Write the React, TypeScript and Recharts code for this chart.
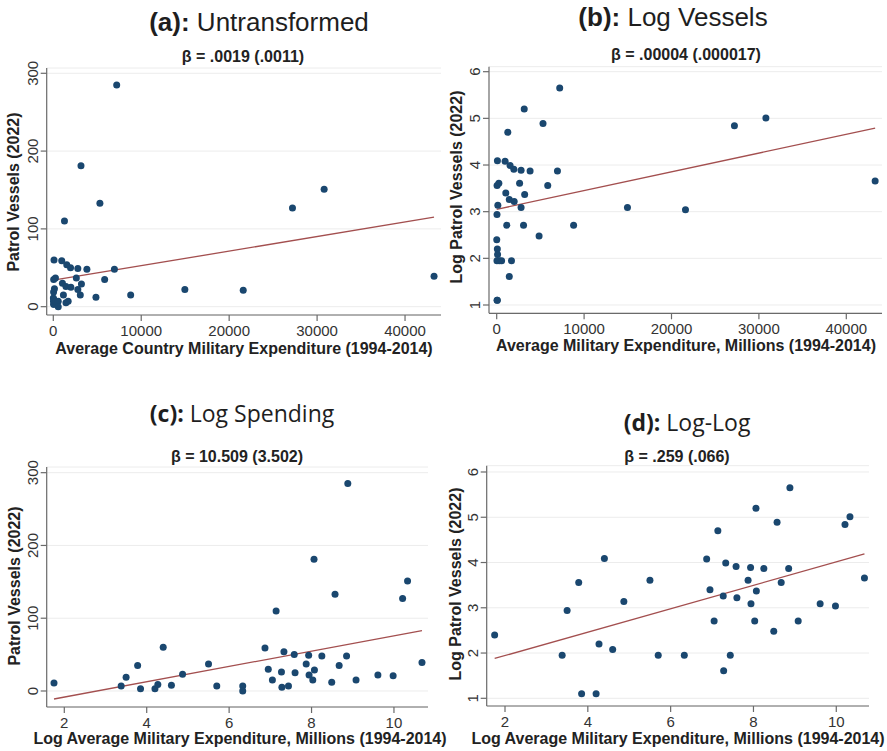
import React from 'react';
import { ScatterChart, Scatter, XAxis, YAxis, CartesianGrid, ReferenceLine } from 'recharts';

const W = 887;
const H = 751;

// one entry per country, ordered by log spending
const spend = [
  6, 29, 33, 44, 47, 67, 72, 81, 100, 130, 245, 300, 560, 560, 960, 1040, 1150, 1270, 1440, 1440, 1530,
  1690, 1960, 2000, 2620, 2790, 2790, 3070, 3150, 3200, 3820, 4850, 5300, 5840, 6950, 7210, 8800,
  14960, 21600, 27200, 30800, 43300,
];
const logSpend = [
  1.75, 3.38, 3.5, 3.78, 3.85, 4.2, 4.27, 4.4, 4.6, 4.87, 5.5, 5.7, 6.33, 6.33, 6.87, 6.95, 7.05, 7.14,
  7.27, 7.28, 7.33, 7.44, 7.58, 7.6, 7.87, 7.93, 7.94, 8.03, 8.06, 8.07, 8.25, 8.49, 8.57, 8.67, 8.85,
  8.88, 9.08, 9.61, 9.98, 10.21, 10.33, 10.68,
];
const vessels = [
  11, 7, 19, 35, 3, 3, 9, 60, 8, 23, 37, 7, 7, 0, 59, 30, 15, 110, 26, 5, 54, 7, 50, 25, 37, 49, 22, 15,
  181, 29, 48, 12, 133, 35, 48, 285, 15, 22, 21, 127, 151, 39,
];
// null: no patrol vessels, so no log value
const logVessels: (number | null)[] = [
  2.4, 1.95, 2.94, 3.56, 1.1, 1.1, 2.2, 4.09, 2.08, 3.14, 3.61, 1.95, 1.95, null, 4.08, 3.4, 2.71, 4.7,
  3.26, 1.61, 3.99, 1.95, 3.91, 3.22, 3.61, 3.89, 3.09, 2.71, 5.2, 3.37, 3.87, 2.48, 4.89, 3.56, 3.87,
  5.65, 2.71, 3.09, 3.04, 4.84, 5.01, 3.66,
];

const xTicksRaw = [0, 10000, 20000, 30000, 40000];
const xTicksLog = [2, 4, 6, 8, 10];
const yTicksRaw = [0, 100, 200, 300];
const yTicksLog = [1, 2, 3, 4, 5, 6];

// fitted OLS lines, endpoints
const fitA = [{ x: 0, y: 34 }, { x: 43300, y: 115 }];
const fitB = [{ x: 0, y: 3.05 }, { x: 43300, y: 4.79 }];
const fitC = [{ x: 1.75, y: -11 }, { x: 10.68, y: 83 }];
const fitD = [{ x: 1.75, y: 1.88 }, { x: 10.68, y: 4.19 }];

const NAVY = '#1a476f';
const FIT = '#a34f4f';
const AXIS = '#6a6a6a';
const SANS = '"Liberation Sans", Arial, sans-serif';

function pairs(xs: number[], ys: (number | null)[]) {
  const out: { x: number; y: number }[] = [];
  xs.forEach((x, i) => {
    const y = ys[i];
    if (y !== null && y !== undefined) out.push({ x, y });
  });
  return out;
}

const Dot = (props: any) => <circle cx={props.cx} cy={props.cy} r={3.5} fill={NAVY} />;

const VTick = (props: any) => {
  const { x, y, payload } = props;
  const cx = x - 8;
  return (
    <text
      x={cx}
      y={y}
      transform={`rotate(-90 ${cx} ${y})`}
      textAnchor="middle"
      dominantBaseline="central"
      fontSize={15}
      fontFamily={SANS}
      fill="#333"
    >
      {payload.value}
    </text>
  );
};

interface PanelProps {
  points: { x: number; y: number }[];
  box: { left: number; top: number; right: number; bottom: number };
  xDomain: [number, number];
  yDomain: [number, number];
  xTicks: number[];
  yTicks: number[];
  fit: { x: number; y: number }[];
}

function Panel({ points, box, xDomain, yDomain, xTicks, yTicks, fit }: PanelProps) {
  const yAxisW = 40;
  const xAxisH = 40;
  const margin = {
    top: box.top,
    right: W - box.right,
    bottom: H - box.bottom - xAxisH,
    left: box.left - yAxisW,
  };
  return (
    <div style={{ position: 'absolute', left: 0, top: 0 }}>
      <ScatterChart width={W} height={H} margin={margin}>
        <CartesianGrid vertical={false} stroke="#ececec" />
        <XAxis
          type="number"
          dataKey="x"
          domain={xDomain}
          ticks={xTicks}
          interval={0}
          allowDataOverflow
          height={xAxisH}
          tickSize={6}
          tickMargin={4}
          axisLine={{ stroke: AXIS, strokeWidth: 1.2 }}
          tickLine={{ stroke: AXIS, strokeWidth: 1.2 }}
          tick={{ fill: '#333', fontSize: 15, fontFamily: SANS }}
        />
        <YAxis
          type="number"
          dataKey="y"
          domain={yDomain}
          ticks={yTicks}
          interval={0}
          allowDataOverflow
          width={yAxisW}
          tickSize={6}
          tickMargin={0}
          axisLine={{ stroke: AXIS, strokeWidth: 1.2 }}
          tickLine={{ stroke: AXIS, strokeWidth: 1.2 }}
          tick={<VTick />}
        />
        <Scatter data={points} shape={Dot} isAnimationActive={false} />
        <ReferenceLine segment={fit} stroke={FIT} strokeWidth={1.3} ifOverflow="visible" />
      </ScatterChart>
    </div>
  );
}

const centered: React.CSSProperties = {
  position: 'absolute',
  transform: 'translate(-50%, -50%)',
  whiteSpace: 'nowrap',
  color: '#222',
  lineHeight: 1,
};

function Title({ x, y, tag, text, font, size }: { x: number; y: number; tag: string; text: string; font: string; size: number }) {
  return (
    <div style={{ ...centered, left: x, top: y, fontFamily: font, fontSize: size, color: '#1e1e1e' }}>
      <span style={{ fontWeight: 700 }}>{tag}</span> {text}
    </div>
  );
}

function Label({ x, y, text, rotate }: { x: number; y: number; text: string; rotate?: boolean }) {
  return (
    <div
      style={{
        ...centered,
        left: x,
        top: y,
        fontFamily: SANS,
        fontSize: 16,
        fontWeight: 700,
        transform: rotate ? 'translate(-50%, -50%) rotate(-90deg)' : centered.transform,
      }}
    >
      {text}
    </div>
  );
}

export default function App() {
  return (
    <div style={{ position: 'absolute', left: 0, top: 0, width: W, height: H, background: '#fff', overflow: 'hidden' }}>
      <Panel
        points={pairs(spend, vessels)}
        box={{ left: 46.7, top: 68, right: 441, bottom: 315 }}
        xDomain={[-750, 44090]}
        yDomain={[-10.7, 306.8]}
        xTicks={xTicksRaw}
        yTicks={yTicksRaw}
        fit={fitA}
      />
      <Panel
        points={pairs(spend, logVessels)}
        box={{ left: 489, top: 66.7, right: 882, bottom: 313.3 }}
        xDomain={[-881, 44085]}
        yDomain={[0.822, 6.107]}
        xTicks={xTicksRaw}
        yTicks={yTicksLog}
        fit={fitB}
      />
      <Panel
        points={pairs(logSpend, vessels)}
        box={{ left: 46.7, top: 467, right: 428, bottom: 707 }}
        xDomain={[1.573, 10.826]}
        yDomain={[-22, 307.8]}
        xTicks={xTicksLog}
        yTicks={yTicksRaw}
        fit={fitC}
      />
      <Panel
        points={pairs(logSpend, logVessels)}
        box={{ left: 486.7, top: 465.7, right: 869, bottom: 706 }}
        xDomain={[1.558, 10.79]}
        yDomain={[0.83, 6.139]}
        xTicks={xTicksLog}
        yTicks={yTicksLog}
        fit={fitD}
      />

      <Title x={259} y={22} tag="(a):" text="Untransformed" font={SANS} size={26} />
      <Title x={673} y={17} tag="(b):" text="Log Vessels" font={SANS} size={26} />
      <Title x={242} y={413} tag="(c):" text="Log Spending" font='"Open Sans", sans-serif' size={23} />
      <Title x={687} y={422} tag="(d):" text="Log-Log" font='"Open Sans", sans-serif' size={23} />

      <Label x={243} y={57} text="β = .0019 (.0011)" />
      <Label x={686} y={55} text="β = .00004 (.000017)" />
      <Label x={237} y={457} text="β = 10.509 (3.502)" />
      <Label x={677} y={457} text="β = .259 (.066)" />

      <Label x={244} y={349} text="Average Country Military Expenditure (1994-2014)" />
      <Label x={686} y={346} text="Average Military Expenditure, Millions (1994-2014)" />
      <Label x={240} y={739} text="Log Average Military Expenditure, Millions (1994-2014)" />
      <Label x={678} y={739} text="Log Average Military Expenditure, Millions (1994-2014)" />

      <Label x={14} y={192} text="Patrol Vessels (2022)" rotate />
      <Label x={457} y={187} text="Log Patrol Vessels (2022)" rotate />
      <Label x={15} y={586} text="Patrol Vessels (2022)" rotate />
      <Label x={456} y={584} text="Log Patrol Vessels (2022)" rotate />
    </div>
  );
}
